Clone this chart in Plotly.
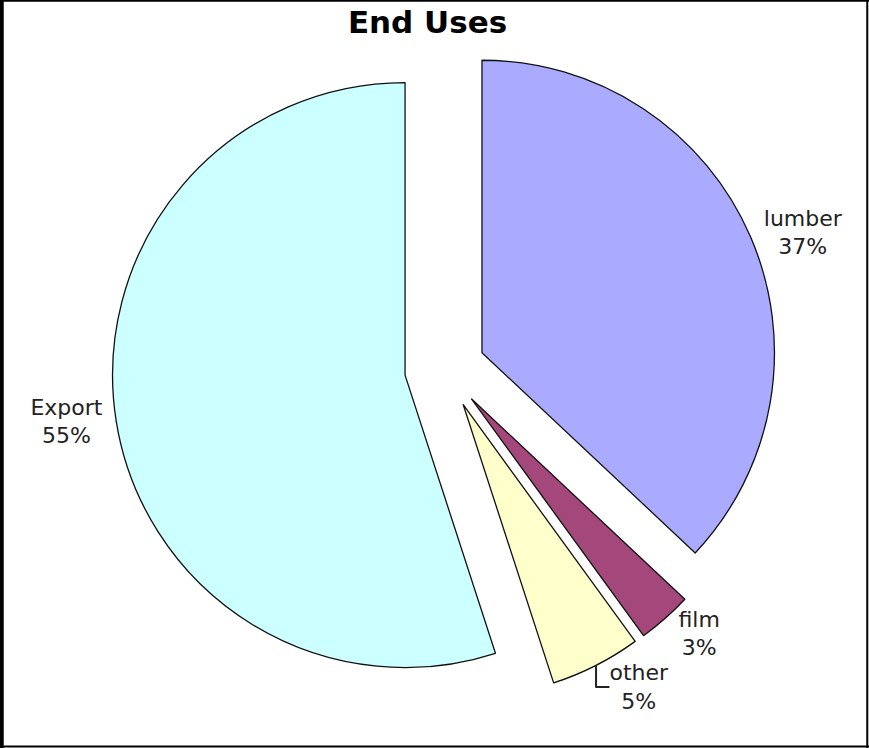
import plotly.graph_objects as go

labels = ["lumber", "film", "other", "Export"]
values = [37, 3, 5, 55]
colors = ["#AAAAFF", "#A4477A", "#FFFFCC", "#CCFFFF"]
pulls = [0.138, 0.138, 0.138, 0.138]

fig = go.Figure()
fig.add_trace(go.Pie(
    labels=labels,
    values=values,
    sort=False,
    direction="clockwise",
    rotation=0,
    pull=pulls,
    marker=dict(colors=colors, line=dict(color="#111111", width=1.3)),
    textinfo="label+percent",
    texttemplate="%{label}<br>%{percent:.0%}",
    textposition="outside",
    textfont=dict(family="DejaVu Sans", size=22, color="#222222"),
    showlegend=False,
    hoverinfo="label+percent",
    automargin=False,
    domain=dict(x=[0.128, 0.896], y=[0.062, 0.952]),
))

fig.update_layout(
    width=869,
    height=748,
    margin=dict(l=0, r=0, t=0, b=0, pad=0, autoexpand=False),
    paper_bgcolor="white",
    title=dict(
        text="<b>End Uses</b>",
        x=0.492,
        xanchor="center",
        y=0.97,
        yanchor="middle",
        font=dict(family="DejaVu Sans", size=31, color="black"),
    ),
    shapes=[
        dict(type="line", xref="paper", yref="paper", x0=0.002, x1=0.002, y0=0, y1=1,
             line=dict(color="black", width=4)),
        dict(type="line", xref="paper", yref="paper", x0=0, x1=1, y0=0.999, y1=0.999,
             line=dict(color="black", width=2)),
        dict(type="line", xref="paper", yref="paper", x0=0.998, x1=0.998, y0=0, y1=1,
             line=dict(color="black", width=2)),
        dict(type="line", xref="paper", yref="paper", x0=0, x1=1, y0=0.002, y1=0.002,
             line=dict(color="black", width=2)),
    ],
)

fig.write_html("out.html")
